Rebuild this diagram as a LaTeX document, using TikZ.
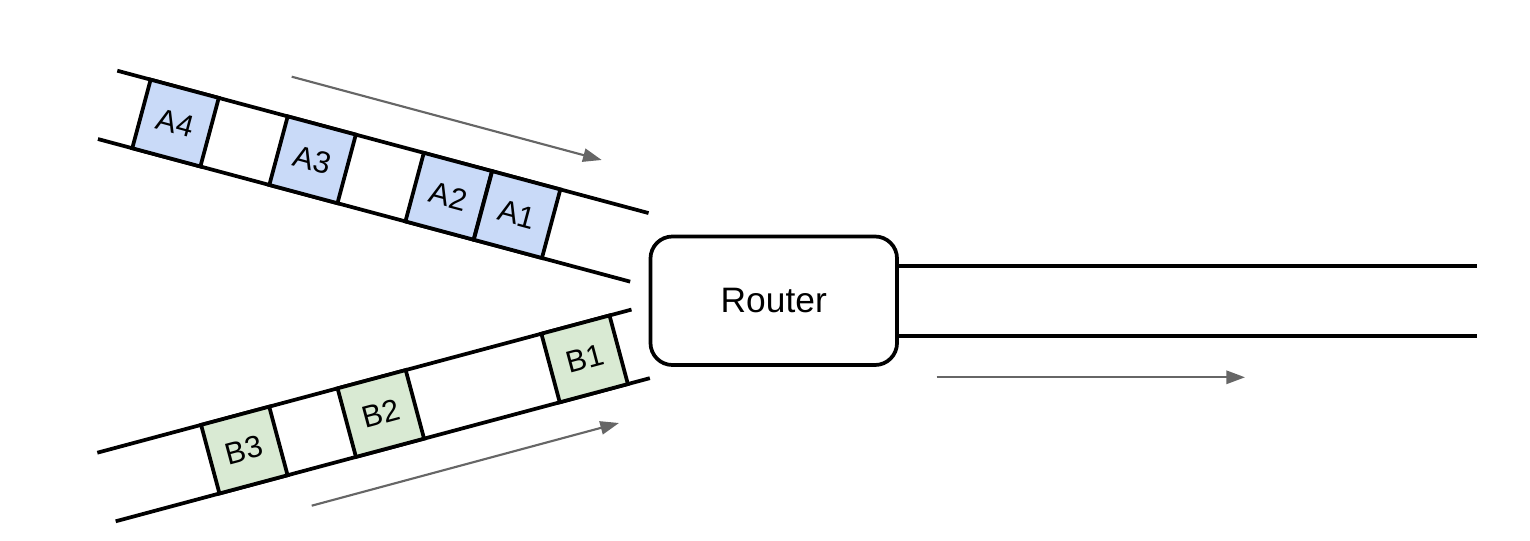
\documentclass[tikz,border=0pt]{standalone}
\usepackage{fontspec}
\setmainfont{Liberation Sans}
\usetikzlibrary{arrows.meta,calc}
\definecolor{pktblue}{HTML}{C9DAF8}
\definecolor{pktgreen}{HTML}{D9EAD3}
\definecolor{flowgray}{HTML}{666666}
\tikzset{
  wire/.style={line width=2.8pt, line cap=butt},
  packet/.style={draw, line width=2.8pt, inner sep=0pt, minimum width=52.9pt, minimum height=53.25pt, font=\fontsize{23}{26}\selectfont, transform shape},
  bluepkt/.style={packet, fill=pktblue},
  greenpkt/.style={packet, fill=pktgreen},
  routerbox/.style={draw, line width=2.8pt, rounded corners=16.5pt, minimum width=184.9pt, minimum height=96.4pt, fill=white, font=\fontsize{26.5}{30}\selectfont},
  flow/.style={draw=flowgray, line width=1.6pt, -{Triangle[length=14pt,width=10pt]}}
}
\begin{document}
\begin{tikzpicture}[x=0.75pt, y=-0.75pt]
\useasboundingbox (0,0) rectangle (1530,541);
% top channel
\begin{scope}[shift={(108.1,105.0)}, rotate=-15]
  \draw[wire] (0,-35.5) -- (550,-35.5);
  \draw[wire] (-1,35.5) -- (550,35.5);
  \node[bluepkt] (a4) at (69.8,0) {A4};
  \node[bluepkt] (a3) at (211.7,0) {A3};
  \node[bluepkt] (a2) at (352.6,0) {A2};
  \node[bluepkt] (a1) at (423.4,0) {A1};
\end{scope}
% bottom channel
\begin{scope}[shift={(106.5,487.0)}, rotate=15]
  \draw[wire] (0,-35.5) -- (553,-35.5);
  \draw[wire] (0,35.5) -- (553,35.5);
  \node[greenpkt] (b3) at (142.7,0) {B3};
  \node[greenpkt] (b2) at (284,0) {B2};
  \node[greenpkt] (b1) at (495,0) {B1};
\end{scope}
% router
\node[routerbox] (router) at (773.75,300.75) {Router};
\coordinate (r1) at (1477,265.7);
\coordinate (r2) at (1477,336);
\draw[wire] (router.east |- r1) -- (r1);
\draw[wire] (router.east |- r2) -- (r2);
% flow arrows
\coordinate (fa1) at (291.7,76.7);
\coordinate (fa2) at (601.7,160);
\coordinate (fb1) at (311.7,505.7);
\coordinate (fb2) at (619,423);
\coordinate (fc1) at (936.7,377.3);
\coordinate (fc2) at (1245,377.3);
\draw[flow] (fa1) -- (fa2);
\draw[flow] (fb1) -- (fb2);
\draw[flow] (fc1) -- (fc2);
\end{tikzpicture}
\end{document}
